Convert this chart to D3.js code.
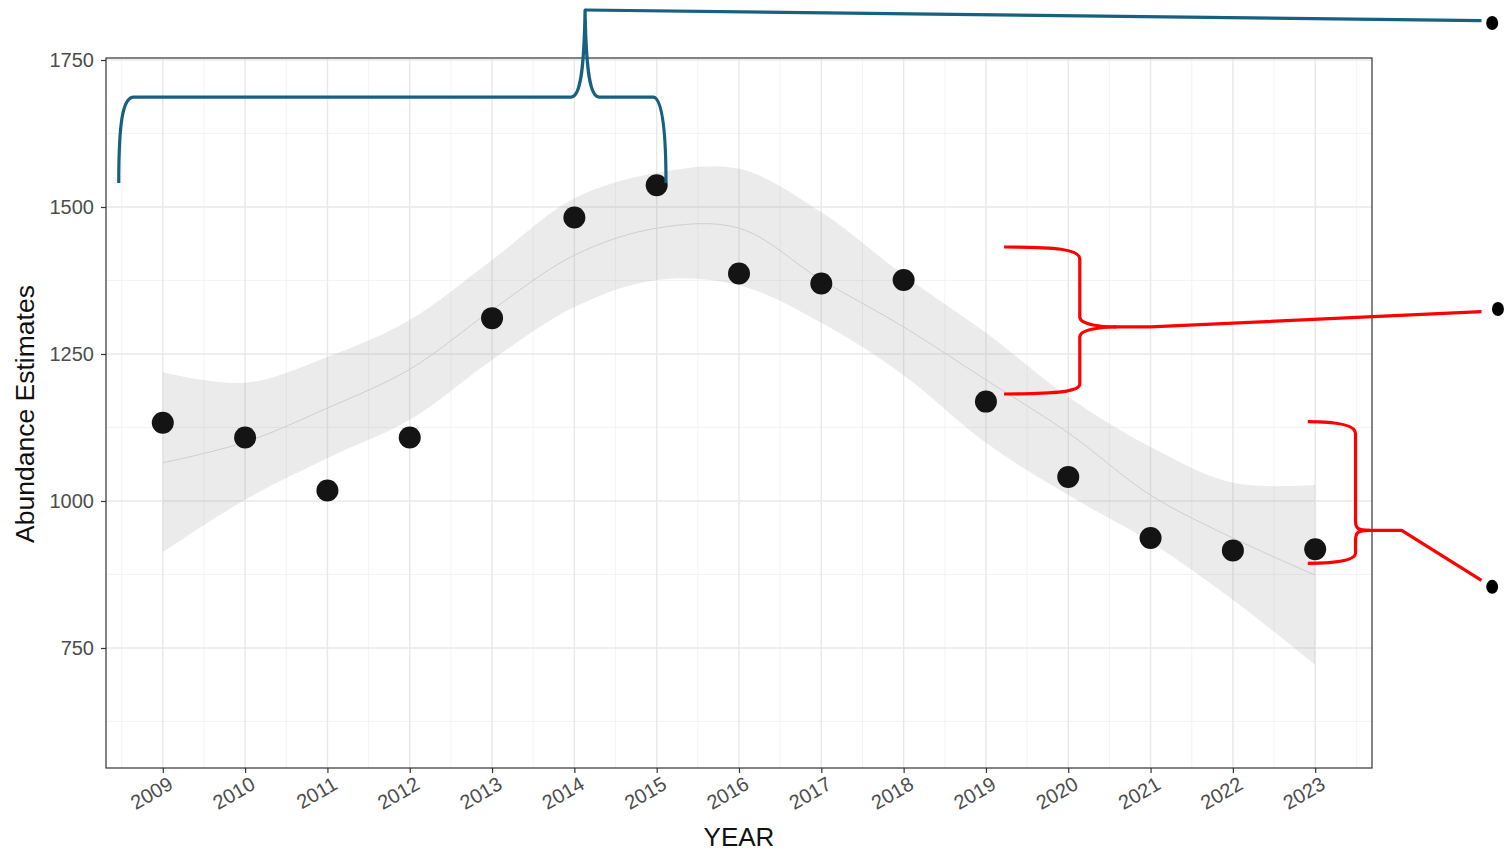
<!DOCTYPE html>
<html>
<head>
<meta charset="utf-8">
<script src="https://cdn.jsdelivr.net/npm/d3@7"></script>
<style>
  html, body { margin: 0; padding: 0; background: #fff; }
  svg { display: block; font-family: "Liberation Sans", Arial, sans-serif; }
</style>
</head>
<body>
<svg id="chart" width="1511" height="853"></svg>
<script>
// ---------------- DATA ----------------
const years = [2009, 2010, 2011, 2012, 2013, 2014, 2015, 2016, 2017, 2018, 2019, 2020, 2021, 2022, 2023];
const abundance = [1133, 1108, 1018, 1108, 1311, 1482, 1537, 1387, 1370, 1376, 1169, 1041, 937, 916, 918];

// loess smooth and its confidence band
const smoothFit   = [1065, 1100, 1158, 1224, 1325, 1418, 1464, 1464, 1376, 1296, 1206, 1116, 1010, 937, 874];
const smoothUpper = [1219, 1201, 1245, 1308, 1410, 1515, 1558, 1565, 1491, 1384, 1286, 1177, 1092, 1031, 1027];
const smoothLower = [913, 1002, 1073, 1138, 1240, 1330, 1376, 1367, 1303, 1214, 1099, 1010, 930, 832, 721];

const yTicks = [750, 1000, 1250, 1500, 1750];
const yMinorTicks = [625, 875, 1125, 1375, 1625];
const xMinorTicks = [2008.5, 2009.5, 2010.5, 2011.5, 2012.5, 2013.5, 2014.5, 2015.5, 2016.5, 2017.5, 2018.5, 2019.5, 2020.5, 2021.5, 2022.5, 2023.5];

const xTitle = "YEAR";
const yTitle = "Abundance Estimates";

// Annotation braces (data coordinates: year, abundance)
// blue brace over 2009-2015, tip pointing up, leader line to a dot at the right
const blueBrace = { x0: 2008.465, x1: 2015.113, xTip: 2014.13, yArm: 1541, yBar: 1687, yTip: 1835,
                    lineEnd: [2025.02, 1817], dot: [2025.15, 1813] };
// red braces, tips pointing right
const redBrace1 = { xArm: 2019.22, xSpine: 2020.14, xTip: 2020.57, yTop: 1432, yTip: 1296, yBottom: 1182,
                    lineStart: [2021.0, 1296], lineEnd: [2025.02, 1322], dot: [2025.22, 1326.5] };
const redBrace2 = { xArm: 2022.91, xSpine: 2023.49, xTip: 2023.66, yTop: 1135, yTip: 950, yBottom: 894,
                    lineStart: [2024.05, 950], lineEnd: [2025.02, 865], dot: [2025.15, 854] };

// ---------------- LAYOUT ----------------
const svg = d3.select("#chart");
const panel = { left: 106, right: 1372, top: 58, bottom: 768 };

const x = d3.scaleLinear().domain([2008.31, 2023.69]).range([panel.left, panel.right]);
const y = d3.scaleLinear().domain([545.9, 1753.4]).range([panel.bottom, panel.top]);

// grid
const grid = svg.append("g");
grid.selectAll(".ymin").data(yMinorTicks).join("line")
  .attr("x1", panel.left).attr("x2", panel.right)
  .attr("y1", d => y(d)).attr("y2", d => y(d))
  .attr("stroke", "#f0f0f0").attr("stroke-width", 0.8);
grid.selectAll(".xmin").data(xMinorTicks).join("line")
  .attr("y1", panel.top).attr("y2", panel.bottom)
  .attr("x1", d => x(d)).attr("x2", d => x(d))
  .attr("stroke", "#f0f0f0").attr("stroke-width", 0.8);
grid.selectAll(".ymaj").data(yTicks).join("line")
  .attr("x1", panel.left).attr("x2", panel.right)
  .attr("y1", d => y(d)).attr("y2", d => y(d))
  .attr("stroke", "#e8e8e8").attr("stroke-width", 1.4);
grid.selectAll(".xmaj").data(years).join("line")
  .attr("y1", panel.top).attr("y2", panel.bottom)
  .attr("x1", d => x(d)).attr("x2", d => x(d))
  .attr("stroke", "#e8e8e8").attr("stroke-width", 1.4);

// confidence band
const bandData = years.map((yr, i) => ({ yr, lo: smoothLower[i], hi: smoothUpper[i], fit: smoothFit[i] }));
svg.append("path")
  .datum(bandData)
  .attr("d", d3.area().x(d => x(d.yr)).y0(d => y(d.lo)).y1(d => y(d.hi)).curve(d3.curveCatmullRom.alpha(0.5)))
  .attr("fill", "#999999").attr("fill-opacity", 0.2);
svg.append("path")
  .datum(bandData)
  .attr("d", d3.line().x(d => x(d.yr)).y(d => y(d.fit)).curve(d3.curveCatmullRom.alpha(0.5)))
  .attr("fill", "none").attr("stroke", "#cfcfcf").attr("stroke-width", 1);

// points
svg.append("g").selectAll("circle").data(years).join("circle")
  .attr("cx", d => x(d)).attr("cy", (d, i) => y(abundance[i]))
  .attr("r", 11).attr("fill", "#141414");

// panel border
svg.append("rect")
  .attr("x", panel.left).attr("y", panel.top)
  .attr("width", panel.right - panel.left).attr("height", panel.bottom - panel.top)
  .attr("fill", "none").attr("stroke", "#333333").attr("stroke-width", 1.2);

// axes
const yAxis = svg.append("g").attr("transform", `translate(${panel.left},0)`)
  .call(d3.axisLeft(y).tickValues(yTicks).tickSize(5).tickPadding(7).tickFormat(d3.format("d")));
yAxis.select(".domain").remove();
yAxis.selectAll(".tick line").attr("stroke", "#333333").attr("stroke-width", 1.2);
yAxis.selectAll(".tick text").attr("fill", "#4d4d4d").style("font-size", "20px");

const xAxis = svg.append("g").attr("transform", `translate(0,${panel.bottom})`)
  .call(d3.axisBottom(x).tickValues(years).tickSize(5).tickFormat(d3.format("d")));
xAxis.select(".domain").remove();
xAxis.selectAll(".tick line").attr("stroke", "#333333").attr("stroke-width", 1.2);
xAxis.selectAll(".tick text")
  .attr("fill", "#4d4d4d").style("font-size", "20px")
  .attr("text-anchor", "end").attr("dy", null).attr("y", null)
  .attr("transform", "translate(11,20) rotate(-30)");

// titles
svg.append("text").attr("x", (panel.left + panel.right) / 2).attr("y", 846)
  .attr("text-anchor", "middle").attr("fill", "#111").style("font-size", "26px").text(xTitle);
svg.append("text").attr("transform", `translate(34,${(panel.top + panel.bottom) / 2 + 1}) rotate(-90)`)
  .attr("text-anchor", "middle").attr("fill", "#111").style("font-size", "26.5px").text(yTitle);

// ---------------- ANNOTATIONS ----------------
const blue = "#17607f", red = "#ff0000";
// blue brace (tip up)
{
  const b = blueBrace;
  const xa = x(b.x0), xb = x(b.x1), xt = x(b.xTip);
  const ya = y(b.yArm), yb = y(b.yBar), yt = y(b.yTip);
  const p = d3.path();
  p.moveTo(xa, ya);
  p.bezierCurveTo(xa, yb + 25, xa + 4, yb, xa + 15, yb);
  p.lineTo(xt - 14, yb);
  p.bezierCurveTo(xt - 5, yb, xt - 1, yb - 25, xt, yt);
  p.bezierCurveTo(xt + 1, yb - 25, xt + 5, yb, xt + 14, yb);
  p.lineTo(xb - 13, yb);
  p.bezierCurveTo(xb - 6, yb, xb, yb + 20, xb, ya);
  svg.append("path").attr("d", p.toString()).attr("fill", "none")
    .attr("stroke", blue).attr("stroke-width", 3.2).attr("stroke-linejoin", "round");
  svg.append("line").attr("x1", xt).attr("y1", yt).attr("x2", x(b.lineEnd[0])).attr("y2", y(b.lineEnd[1]))
    .attr("stroke", blue).attr("stroke-width", 3.2);
  svg.append("ellipse").attr("cx", x(b.dot[0])).attr("cy", y(b.dot[1])).attr("rx", 6).attr("ry", 7).attr("fill", "#000");
}
// red braces (tip right)
function redBrace(b) {
  const xa = x(b.xArm), xs = x(b.xSpine), xt = x(b.xTip);
  const y0 = y(b.yTop), yt = y(b.yTip), y1 = y(b.yBottom);
  const p = d3.path();
  p.moveTo(xa, y0);
  p.bezierCurveTo(xs - 25, y0, xs, y0 + 2, xs, y0 + 12);
  p.lineTo(xs, yt - 10);
  p.bezierCurveTo(xs, yt - 2, xt - 12, yt, xt, yt);
  p.bezierCurveTo(xt - 12, yt, xs, yt + 2, xs, yt + 10);
  p.lineTo(xs, y1 - 10);
  p.bezierCurveTo(xs, y1 - 2, xs - 25, y1, xa, y1);
  svg.append("path").attr("d", p.toString()).attr("fill", "none")
    .attr("stroke", red).attr("stroke-width", 3.2).attr("stroke-linejoin", "round");
  const l = d3.path();
  l.moveTo(xt - 2, yt);
  l.lineTo(x(b.lineStart[0]), y(b.lineStart[1]));
  l.lineTo(x(b.lineEnd[0]), y(b.lineEnd[1]));
  svg.append("path").attr("d", l.toString()).attr("fill", "none")
    .attr("stroke", red).attr("stroke-width", 3.2).attr("stroke-linejoin", "round");
  svg.append("ellipse").attr("cx", x(b.dot[0])).attr("cy", y(b.dot[1])).attr("rx", 6).attr("ry", 7).attr("fill", "#000");
}
redBrace(redBrace1);
redBrace(redBrace2);
</script>
</body>
</html>
